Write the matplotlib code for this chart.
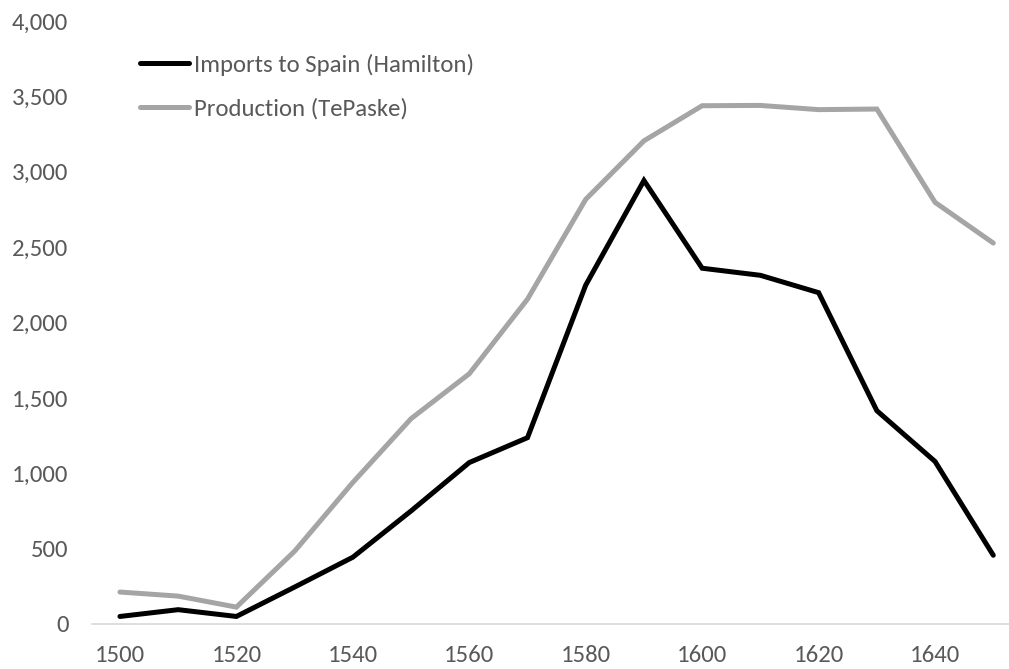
import matplotlib
matplotlib.use("Agg")
import matplotlib.pyplot as plt
from matplotlib.ticker import FuncFormatter
import logging
logging.getLogger('matplotlib.font_manager').setLevel(logging.ERROR)

years = [1500, 1510, 1520, 1530, 1540, 1550, 1560, 1570, 1580, 1590, 1600, 1610, 1620, 1630, 1640, 1650]
imports_hamilton = [50, 95, 50, 245, 443, 750, 1071, 1236, 2248, 2942, 2360, 2313, 2198, 1415, 1078, 456]
production_tepaske = [212, 185, 112, 483, 939, 1362, 1660, 2155, 2817, 3205, 3438, 3440, 3412, 3416, 2797, 2527]
xticks = [1500, 1520, 1540, 1560, 1580, 1600, 1620, 1640]
yticks = [0, 500, 1000, 1500, 2000, 2500, 3000, 3500, 4000]

plt.rcParams['font.family'] = ['Carlito', 'Lato', 'DejaVu Sans']

W, H = 1009, 669
FS = 17.8
fig = plt.figure(figsize=(W / 100, H / 100), dpi=100)
ax = fig.add_axes([92 / W, (H - 624) / H, (W - 92) / W, (624 - 21) / H])

ax.plot(years, imports_hamilton, color='black', lw=3.6, solid_joinstyle='miter',
        solid_capstyle='round', label='Imports to Spain (Hamilton)', zorder=3)
ax.plot(years, production_tepaske, color='#a5a5a5', lw=3.6, solid_joinstyle='miter',
        solid_capstyle='round', label='Production (TePaske)', zorder=2)

ax.set_xlim(1495.2, 1652.7)
ax.set_ylim(0, 4000)
ax.set_xticks(xticks)
ax.set_yticks(yticks)
ax.yaxis.set_major_formatter(FuncFormatter(lambda v, p: f"{int(v):,}"))

for s in ['top', 'right', 'left']:
    ax.spines[s].set_visible(False)
ax.spines['bottom'].set_color('#d9d9d9')
ax.spines['bottom'].set_linewidth(1.2)
ax.tick_params(axis='both', length=0, labelsize=FS, labelcolor='#595959')
ax.tick_params(axis='y', pad=17)
ax.tick_params(axis='x', pad=15)

leg = ax.legend(loc='upper left', bbox_to_anchor=(48 / (W - 92), 1 - (54 - 21) / (624 - 21)),
                frameon=False, fontsize=FS, handlelength=2.0, handletextpad=0.2,
                labelspacing=0.88, borderaxespad=0, borderpad=0)
for t in leg.get_texts():
    t.set_color('#595959')

fig.savefig('out.png', dpi=100)
